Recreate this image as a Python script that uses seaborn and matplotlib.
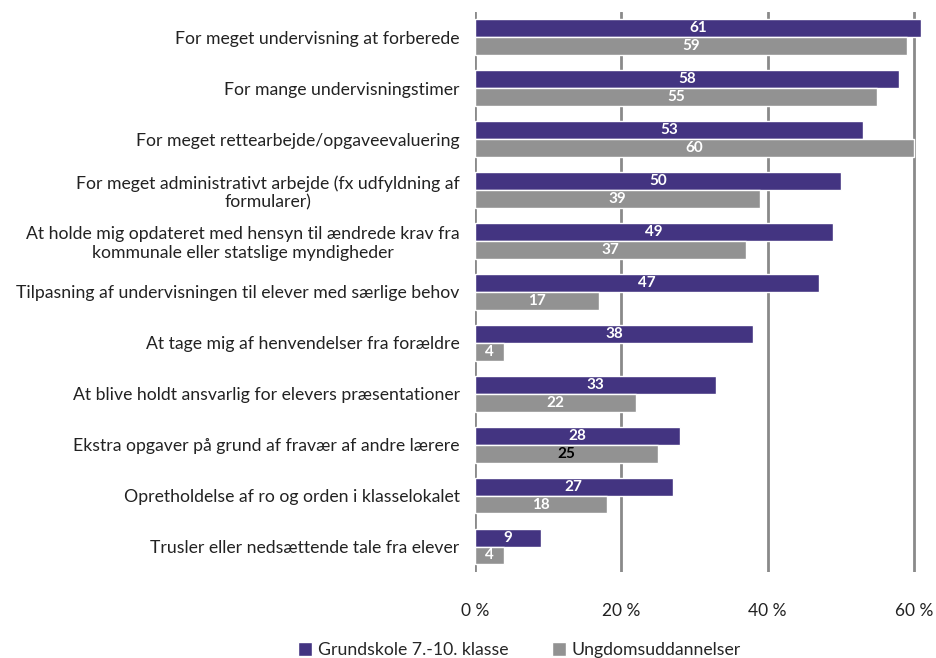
import matplotlib
matplotlib.use("Agg")
import matplotlib.pyplot as plt
import seaborn as sns
import pandas as pd

categories = [
    "For meget undervisning at forberede",
    "For mange undervisningstimer",
    "For meget rettearbejde/opgaveevaluering",
    "For meget administrativt arbejde (fx udfyldning af\nformularer)",
    "At holde mig opdateret med hensyn til ændrede krav fra\nkommunale eller statslige myndigheder",
    "Tilpasning af undervisningen til elever med særlige behov",
    "At tage mig af henvendelser fra forældre",
    "At blive holdt ansvarlig for elevers præsentationer",
    "Ekstra opgaver på grund af fravær af andre lærere",
    "Opretholdelse af ro og orden i klasselokalet",
    "Trusler eller nedsættende tale fra elever",
]
grundskole = [61, 58, 53, 50, 49, 47, 38, 33, 28, 27, 9]
ungdom = [59, 55, 60, 39, 37, 17, 4, 22, 25, 18, 4]
series = ["Grundskole 7.-10. klasse", "Ungdomsuddannelser"]
colors = ["#433481", "#929292"]

df = pd.DataFrame({
    "cat": categories * 2,
    "val": grundskole + ungdom,
    "serie": [series[0]] * len(categories) + [series[1]] * len(categories),
})

sns.set_style("white")
plt.rcParams["font.family"] = ["Lato", "DejaVu Sans"]

fig = plt.figure(figsize=(9.36, 6.58), dpi=100)
ax = fig.add_axes([0.5075, 0.1307, 0.4845, 0.8513])

sns.barplot(data=df, x="val", y="cat", hue="serie", palette=colors,
            orient="h", width=0.7, ax=ax, saturation=1, errorbar=None)

ax.set_xlim(0, 62)
ax.set_xticks([0, 20, 40, 60])
ax.set_xticklabels(["0 %", "20 %", "40 %", "60 %"], fontsize=12.5, color="#222222")
ax.tick_params(axis="x", length=0, pad=22)
ax.tick_params(axis="y", length=0, pad=11)
for t in ax.get_yticklabels():
    t.set_fontsize(12.7)
    t.set_color("#222222")
    t.set_multialignment("center")
ax.set_xlabel("")
ax.set_ylabel("")
for s in ax.spines.values():
    s.set_visible(False)
ax.xaxis.grid(True, color="#8a8a8a", linewidth=2)
ax.set_axisbelow(True)

for i, cont in enumerate(ax.containers):
    for j, bar in enumerate(cont):
        v = bar.get_width()
        c = "white"
        if i == 1 and j == 8:
            c = "black"
        ax.text(bar.get_x() + v / 2, bar.get_y() + bar.get_height() / 2,
                f"{int(v)}", ha="center", va="center", fontsize=11,
                fontweight="bold", color=c)

sns.move_legend(ax, "center", bbox_to_anchor=(0.555, 0.012),
                bbox_transform=fig.transFigure, ncol=2, frameon=False,
                title=None, fontsize=12.7, handlelength=0.8, handleheight=0.8,
                handletextpad=0.3, columnspacing=2.5)

fig.savefig("out.png", dpi=100)
